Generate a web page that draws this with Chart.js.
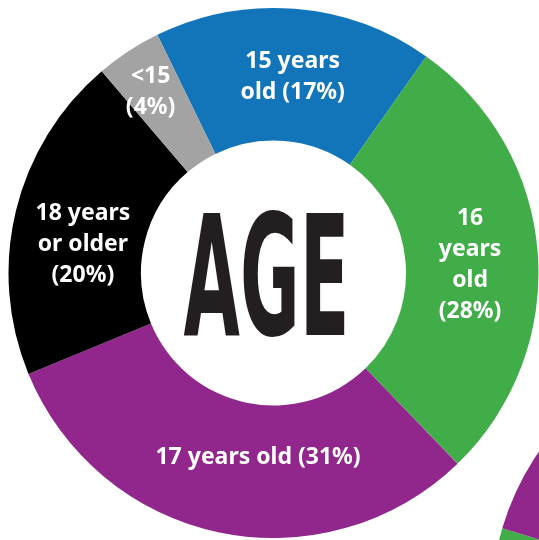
<!DOCTYPE html>
<html>
<head>
<meta charset="utf-8">
<script src="https://cdn.jsdelivr.net/npm/chart.js@4.4.1/dist/chart.umd.min.js"></script>
<style>
  html, body { margin: 0; padding: 0; background: #fff; overflow: hidden; }
  #wrap { position: relative; width: 539px; height: 540px; overflow: hidden; }
  #ageChart { position: absolute; left: 0; top: 0; }
  #nextChart { position: absolute; left: 490px; top: 330px; }
</style>
</head>
<body>
<div id="wrap">
  <canvas id="nextChart" width="560" height="560"></canvas>
  <canvas id="ageChart" width="539" height="540"></canvas>
</div>
<script>
/* ---------------- DATA ---------------- */
const ageLabels = [
  ["15 years", "old (17%)"],
  ["16", "years", "old", "(28%)"],
  ["17 years old (31%)"],
  ["18 years", "or older", "(20%)"],
  ["<15", "(4%)"]
];
const agePercent = [17, 28, 31, 20, 4];
const ageColors = ["#1275ba", "#41ad49", "#91278c", "#000000", "#a3a3a3"];

// the next chart on the page, only its edge shows in the corner
// (last value is the part that is off the picture, left unpainted)
const nextValues = [37, 63, 260];
const nextColors = ["#41ad49", "#91278c", "rgba(0,0,0,0)"];

/* ---------------- LABEL PLUGIN ---------------- */
// small angle nudges (degrees) so labels sit like the original
const labelNudge = [1, 2, -7, -5, -1];
const labelRadius = [0.99, 0.99, 0.93, 0.97, 1.1];

const sliceLabels = {
  id: "sliceLabels",
  afterDatasetsDraw(chart) {
    const ctx = chart.ctx;
    const meta = chart.getDatasetMeta(0);
    ctx.save();
    ctx.fillStyle = "#fff";
    ctx.font = "bold 23px 'Noto Sans', sans-serif";
    ctx.textAlign = "center";
    ctx.textBaseline = "middle";
    meta.data.forEach((arc, i) => {
      const p = arc.getProps(["x", "y", "startAngle", "endAngle", "innerRadius", "outerRadius"], true);
      const a = (p.startAngle + p.endAngle) / 2 + labelNudge[i] * Math.PI / 180;
      const r = (p.innerRadius + p.outerRadius) / 2 * labelRadius[i];
      const cx = p.x + Math.cos(a) * r;
      const cy = p.y + Math.sin(a) * r;
      const lines = ageLabels[i];
      const lh = 31;
      lines.forEach((t, k) => {
        ctx.fillText(t, cx, cy + (k - (lines.length - 1) / 2) * lh);
      });
    });
    ctx.restore();
  }
};

const centerTitle = {
  id: "centerTitle",
  afterDraw(chart) {
    const ctx = chart.ctx;
    const arc = chart.getDatasetMeta(0).data[0];
    ctx.save();
    ctx.font = "bold 168px 'DejaVu Sans', sans-serif";
    ctx.textAlign = "center";
    ctx.textBaseline = "alphabetic";
    ctx.fillStyle = "#231f20";
    const w = ctx.measureText("AGE").width;
    ctx.translate(arc.x - 7, arc.y + 62);
    ctx.scale(166 / w, 1);
    ctx.fillText("AGE", 0, 0);
    ctx.restore();
  }
};

/* ---------------- CHARTS ---------------- */
new Chart(document.getElementById("ageChart"), {
  type: "doughnut",
  data: {
    labels: ageLabels.map((l) => l.join(" ")),
    datasets: [{
      data: agePercent,
      backgroundColor: ageColors,
      borderWidth: 0
    }]
  },
  options: {
    responsive: false,
    animation: false,
    cutout: "50%",
    rotation: -26,
    layout: { padding: { left: 8, right: 0, top: 8, bottom: 2 } },
    plugins: { legend: { display: false }, tooltip: { enabled: false } }
  },
  plugins: [sliceLabels, centerTitle]
});

new Chart(document.getElementById("nextChart"), {
  type: "doughnut",
  data: {
    labels: ["green", "purple", "rest"],
    datasets: [{ data: nextValues, backgroundColor: nextColors, borderWidth: 0 }]
  },
  options: {
    responsive: false,
    animation: false,
    cutout: "50%",
    rotation: 250,
    plugins: { legend: { display: false }, tooltip: { enabled: false } }
  }
});
</script>
</body>
</html>
